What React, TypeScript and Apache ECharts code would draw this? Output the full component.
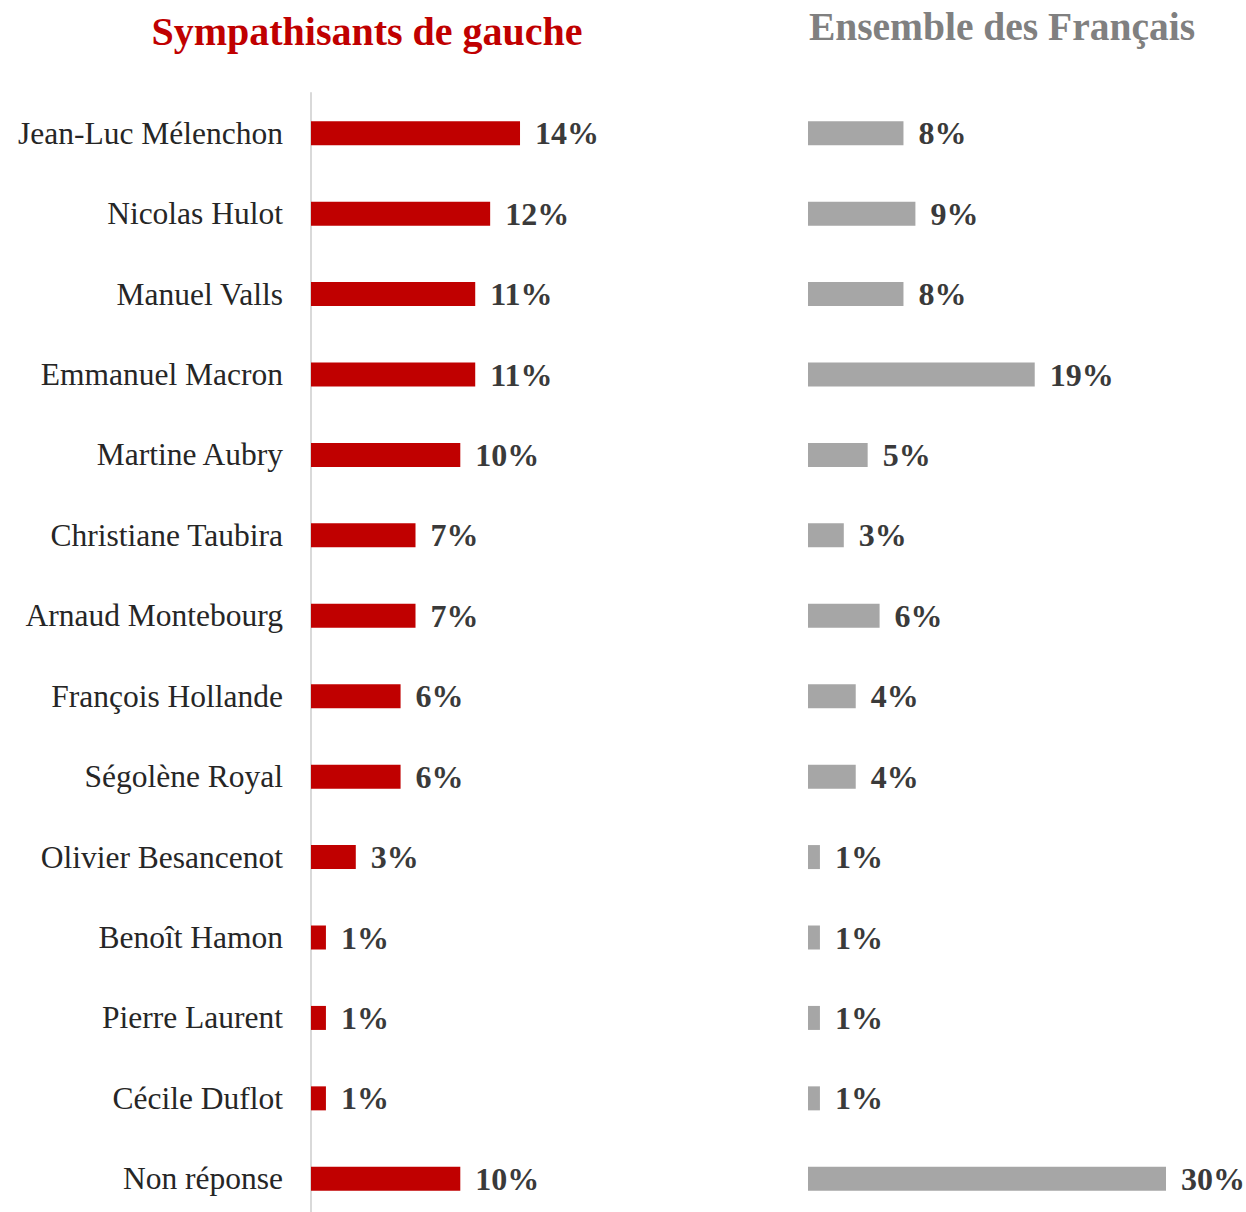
import React, { useEffect, useRef } from "react";
import * as echarts from "echarts";

const categories = [
  "Jean-Luc Mélenchon",
  "Nicolas Hulot",
  "Manuel Valls",
  "Emmanuel Macron",
  "Martine Aubry",
  "Christiane Taubira",
  "Arnaud Montebourg",
  "François Hollande",
  "Ségolène Royal",
  "Olivier Besancenot",
  "Benoît Hamon",
  "Pierre Laurent",
  "Cécile Duflot",
  "Non réponse",
];
const gaucheValues = [14, 12, 11, 11, 10, 7, 7, 6, 6, 3, 1, 1, 1, 10];
const ensembleValues = [8, 9, 8, 19, 5, 3, 6, 4, 4, 1, 1, 1, 1, 30];
const titles = ["Sympathisants de gauche", "Ensemble des Français"];

const FONT = "Liberation Serif";

export default function App() {
  const ref = useRef<HTMLDivElement>(null);
  useEffect(() => {
    if (!ref.current) return;
    const chart = echarts.init(ref.current, null, { renderer: "svg" });
    const valueLabel = {
      show: true,
      position: "right" as const,
      distance: 15,
      formatter: "{c}%",
      fontFamily: FONT,
      fontWeight: "bold" as const,
      fontSize: 32,
      color: "#3a3a3a",
    };
    chart.setOption({
      animation: false,
      backgroundColor: "#ffffff",
      title: [
        {
          text: titles[0],
          left: 362,
          top: 6,
          textAlign: "center",
          textStyle: { fontFamily: FONT, fontWeight: "bold", fontSize: 40, color: "#c00000" },
        },
        {
          text: titles[1],
          left: 997,
          top: 2,
          textAlign: "center",
          textStyle: { fontFamily: FONT, fontWeight: "bold", fontSize: 39.5, color: "#808080" },
        },
      ],
      grid: [
        { left: 311, top: 93, width: 298.6, height: 1126 },
        { left: 808, top: 93, width: 358, height: 1126 },
      ],
      xAxis: [
        { type: "value", gridIndex: 0, min: 0, max: 20, show: false },
        { type: "value", gridIndex: 1, min: 0, max: 30, show: false },
      ],
      yAxis: [
        {
          type: "category",
          gridIndex: 0,
          data: categories,
          inverse: true,
          axisLine: { show: true, lineStyle: { color: "#d9d9d9", width: 2 } },
          axisTick: { show: false },
          axisLabel: {
            margin: 28,
            fontFamily: FONT,
            fontSize: 31.5,
            color: "#262626",
          },
        },
        {
          type: "category",
          gridIndex: 1,
          data: categories,
          inverse: true,
          axisLine: { show: false },
          axisTick: { show: false },
          axisLabel: { show: false },
        },
      ],
      series: [
        {
          type: "bar",
          xAxisIndex: 0,
          yAxisIndex: 0,
          data: gaucheValues,
          barWidth: 24,
          itemStyle: { color: "#c00000" },
          label: valueLabel,
        },
        {
          type: "bar",
          xAxisIndex: 1,
          yAxisIndex: 1,
          data: ensembleValues,
          barWidth: 24,
          itemStyle: { color: "#a6a6a6" },
          label: valueLabel,
        },
      ],
    });
    return () => chart.dispose();
  }, []);
  return (
    <div
      style={{
        position: "absolute",
        left: 0,
        top: 0,
        width: 1246,
        height: 1212,
        overflow: "hidden",
      }}
    >
      <div ref={ref} style={{ width: 1246, height: 1232 }} />
    </div>
  );
}
